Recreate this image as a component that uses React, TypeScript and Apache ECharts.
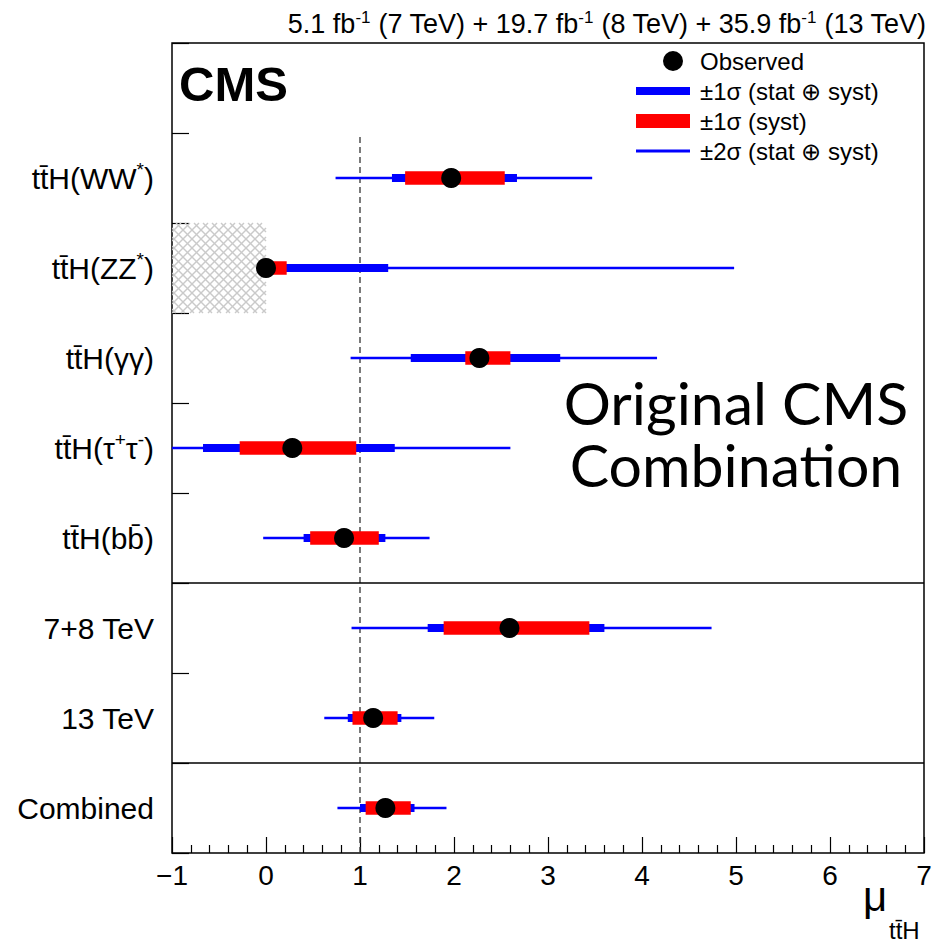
import React, { useEffect, useRef } from "react";
import * as echarts from "echarts";

// ---------- data ----------
// rows from bottom to top; the last empty category is the legend row
const categories = [
  "Combined",
  "13 TeV",
  "7+8 TeV",
  "tt\u0304H(bb\u0304)",
  "tt\u0304H(\u03c4{s|+}\u03c4{s|-})",
  "tt\u0304H(\u03b3\u03b3)",
  "tt\u0304H(ZZ{s|*})",
  "tt\u0304H(WW{s|*})",
  "",
];
const observed = [1.27, 1.14, 2.59, 0.83, 0.28, 2.27, 0.0, 1.97];
const systLow = [1.06, 0.92, 1.89, 0.47, -0.28, 2.12, 0.0, 1.48];
const systHigh = [1.54, 1.4, 3.44, 1.2, 0.96, 2.6, 0.22, 2.54];
const tot1Low = [1.0, 0.87, 1.72, 0.4, -0.67, 1.54, 0.0, 1.34];
const tot1High = [1.58, 1.44, 3.6, 1.27, 1.37, 3.13, 1.3, 2.67];
const tot2Low = [0.76, 0.62, 0.91, -0.03, -1.0, 0.9, 0.0, 0.74];
const tot2High = [1.92, 1.79, 4.74, 1.74, 2.6, 4.16, 4.98, 3.47];
// excluded (hatched) region: [muMin, muMax, category index]
const excludedRegions = [[-1, 0, 6]];
const smValue = 1; // SM expectation, dashed line
const smLineTop = 8; // dashed line spans categories 0..8
const groupSeparators = [3, 1];
const xMin = -1;
const xMax = 7;
const legendNames = [
  "Observed",
  "\u00b11\u03c3 (stat \u2295 syst)",
  "\u00b11\u03c3 (syst)",
  "\u00b12\u03c3 (stat \u2295 syst)",
];
const headerText =
  "5.1 fb{s|-1} (7 TeV) + 19.7 fb{s|-1} (8 TeV) + 35.9 fb{s|-1} (13 TeV)";
const experimentLabel = "CMS";
const overlayText = "Original CMS\nCombination";
const axisTitleMain = "\u03bc";
const axisTitleSub = "tt\u0304H";

const FONT = '"Liberation Sans", Arial, Helvetica, sans-serif';
const BLUE = "#0000ff";
const RED = "#ff0000";

function rangeRows(lo: number[], hi: number[]) {
  return lo.map((l, i) => [l, hi[i], i + 0.5]);
}

function barRenderer(height: number, color: string) {
  return (_params: any, api: any) => {
    const a = api.coord([api.value(0), api.value(2)]);
    const b = api.coord([api.value(1), api.value(2)]);
    return {
      type: "rect",
      shape: { x: a[0], y: a[1] - height / 2, width: b[0] - a[0], height },
      style: { fill: color },
    };
  };
}

function hatchRenderer(_params: any, api: any) {
  const a = api.coord([api.value(0), api.value(2) + 1]);
  const b = api.coord([api.value(1), api.value(2)]);
  const x0 = a[0], y0 = a[1], x1 = b[0], y1 = b[1];
  const s = 9;
  const st = { stroke: "#cacaca", lineWidth: 1.4 };
  const children: any[] = [];
  for (let c = y0 - x1; c <= y1 - x0; c += s) {
    const xa = Math.max(x0, y0 - c), xb = Math.min(x1, y1 - c);
    if (xb > xa)
      children.push({ type: "line", shape: { x1: xa, y1: xa + c, x2: xb, y2: xb + c }, style: st });
  }
  for (let d = x0 + y0; d <= x1 + y1; d += s) {
    const xa = Math.max(x0, d - y1), xb = Math.min(x1, d - y0);
    if (xb > xa)
      children.push({ type: "line", shape: { x1: xa, y1: d - xa, x2: xb, y2: d - xb }, style: st });
  }
  return { type: "group", children };
}

export default function App() {
  const ref = useRef<HTMLDivElement>(null);
  useEffect(() => {
    if (!ref.current) return;
    const chart = echarts.init(ref.current, undefined, { renderer: "svg" });
    const supStyle = { fontSize: 19, lineHeight: 19, verticalAlign: "top", fontFamily: FONT, color: "#000" };
    chart.setOption({
      animation: false,
      backgroundColor: "#fff",
      grid: {
        left: 172,
        right: 19,
        top: 43,
        bottom: 92,
        show: true,
        borderColor: "#000",
        borderWidth: 1.5,
        backgroundColor: "transparent",
      },
      xAxis: {
        type: "value",
        min: xMin,
        max: xMax,
        interval: 1,
        axisLine: { show: false, onZero: false },
        splitLine: { show: false },
        axisTick: { show: true, inside: true, length: 16, lineStyle: { color: "#000", width: 1.2 } },
        minorTick: { show: true, splitNumber: 5, length: 8, lineStyle: { color: "#000", width: 1.2 } },
        axisLabel: {
          fontSize: 28,
          fontFamily: FONT,
          color: "#000",
          margin: 8,
          formatter: (v: number) => (v < 0 ? "\u2212" + Math.abs(v) : String(v)),
        },
      },
      yAxis: [
        {
          type: "category",
          data: categories,
          boundaryGap: true,
          axisLine: { show: false, onZero: false },
          splitLine: { show: false },
          axisTick: { show: true, inside: true, length: 17, interval: 0, lineStyle: { color: "#000", width: 1.2 } },
          axisLabel: {
            interval: 0,
            fontSize: 30,
            lineHeight: 36,
            fontFamily: FONT,
            color: "#000",
            margin: 18,
            rich: { s: supStyle },
          },
        },
        { type: "value", min: 0, max: categories.length, show: false },
      ],
      legend: {
        orient: "vertical",
        left: 636,
        top: 49,
        padding: 0,
        itemWidth: 54,
        itemHeight: 20,
        itemGap: 6,
        selectedMode: false,
        textStyle: { fontSize: 24, lineHeight: 20, fontFamily: FONT, color: "#000", padding: [0, 0, 0, 5] },
        data: [
          { name: legendNames[0], icon: "path://M0,0M54,20M47,10a10,10 0 1,0 -20,0a10,10 0 1,0 20,0z" },
          { name: legendNames[1], icon: "path://M0,0h54v8h-54z" },
          { name: legendNames[2], icon: "path://M0,0h54v14h-54z" },
          { name: legendNames[3], icon: "path://M0,0h54v3h-54z" },
        ],
      },
      series: [
        {
          type: "custom",
          name: "excluded",
          yAxisIndex: 1,
          z: 1,
          clip: true,
          renderItem: hatchRenderer,
          data: excludedRegions,
        },
        {
          type: "line",
          name: "SM",
          yAxisIndex: 1,
          z: 1,
          symbol: "none",
          lineStyle: { color: "#333", width: 1.3, type: [6, 4] },
          data: [
            [smValue, 0],
            [smValue, smLineTop],
          ],
          markLine: {
            silent: true,
            symbol: "none",
            label: { show: false },
            lineStyle: { color: "#000", width: 1.5, type: "solid" },
            data: groupSeparators.map((v) => ({ yAxis: v })),
          },
        },
        {
          type: "custom",
          name: legendNames[3],
          yAxisIndex: 1,
          z: 2,
          clip: true,
          itemStyle: { color: BLUE },
          renderItem: barRenderer(2.6, BLUE),
          data: rangeRows(tot2Low, tot2High),
        },
        {
          type: "custom",
          name: legendNames[1],
          yAxisIndex: 1,
          z: 3,
          clip: true,
          itemStyle: { color: BLUE },
          renderItem: barRenderer(8, BLUE),
          data: rangeRows(tot1Low, tot1High),
        },
        {
          type: "custom",
          name: legendNames[2],
          yAxisIndex: 1,
          z: 4,
          clip: true,
          itemStyle: { color: RED },
          renderItem: barRenderer(13.5, RED),
          data: rangeRows(systLow, systHigh),
        },
        {
          type: "scatter",
          name: legendNames[0],
          yAxisIndex: 1,
          z: 5,
          symbol: "circle",
          symbolSize: 20,
          itemStyle: { color: "#000", opacity: 1 },
          data: observed.map((m, i) => [m, i + 0.5]),
        },
      ],
      graphic: [
        {
          type: "text",
          x: 926,
          y: 24,
          style: {
            text: headerText,
            fontSize: 27,
            lineHeight: 30,
            fontFamily: FONT,
            fill: "#000",
            align: "right",
            verticalAlign: "middle",
            textAlign: "right",
            textVerticalAlign: "middle",
            rich: { s: { fontSize: 17, lineHeight: 17, verticalAlign: "top", fontFamily: FONT } },
          },
        },
        {
          type: "text",
          x: 179,
          y: 84,
          style: {
            text: experimentLabel,
            fontSize: 49,
            fontWeight: "bold",
            fontFamily: FONT,
            fill: "#000",
            verticalAlign: "middle",
            textVerticalAlign: "middle",
          },
        },
        {
          type: "text",
          x: 736,
          y: 433,
          style: {
            text: overlayText,
            fontSize: 59,
            lineHeight: 62,
            fontFamily: "Lato, 'Open Sans', sans-serif",
            fill: "#000",
            align: "center",
            verticalAlign: "middle",
            textAlign: "center",
            textVerticalAlign: "middle",
          },
        },
        {
          type: "text",
          x: 863,
          y: 896,
          style: {
            text: axisTitleMain,
            fontSize: 42,
            fontFamily: FONT,
            fill: "#000",
            verticalAlign: "middle",
            textVerticalAlign: "middle",
          },
        },
        {
          type: "text",
          x: 889,
          y: 930,
          style: {
            text: axisTitleSub,
            fontSize: 24,
            fontFamily: FONT,
            fill: "#000",
            verticalAlign: "middle",
            textVerticalAlign: "middle",
          },
        },
      ],
    });
    return () => chart.dispose();
  }, []);
  return (
    <div
      ref={ref}
      style={{ position: "fixed", left: 0, top: 0, width: 943, height: 945, background: "#fff" }}
    />
  );
}
